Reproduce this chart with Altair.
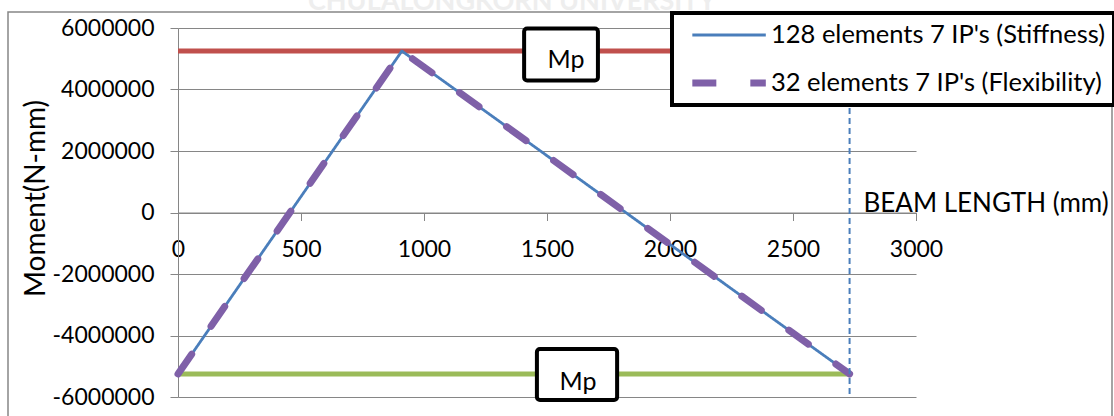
import altair as alt
import pandas as pd

# Bending moment along the beam, two analysis models
series_names = ["128 elements 7 IP's (Stiffness)", "32 elements 7 IP's (Flexibility)"]
stiff_x = [0, 910, 2730]
stiff_m = [-5250000, 5250000, -5250000]
flex_x = [0, 910, 2730]
flex_m = [-5250000, 5250000, -5250000]

# Plastic moment capacity (+Mp / -Mp) and beam end
mp_value = 5250000
mp_span = [0, 2730]
beam_end = 2730

# Axis ticks
x_ticks = [0, 500, 1000, 1500, 2000, 2500, 3000]
y_ticks = [-6000000, -4000000, -2000000, 0, 2000000, 4000000, 6000000]

# "Mp" callouts: box corners and label anchor in data units
mp_boxes = [
    {"x0": 1407, "x1": 1707, "y0": 5980000, "y1": 4290000, "tx": 1577, "ty": 4700000},
    {"x0": 1459, "x1": 1785, "y0": -4440000, "y1": -6100000, "tx": 1626, "ty": -5770000},
]

FONT = "Lato"
GRAY = "#868686"
BLUE = "#4a7ebb"
PURPLE = "#7f60a8"

lines_df = pd.DataFrame(
    [{"x": x, "m": m, "series": series_names[0]} for x, m in zip(stiff_x, stiff_m)]
    + [{"x": x, "m": m, "series": series_names[1]} for x, m in zip(flex_x, flex_m)]
)

mp_df = pd.DataFrame([
    {"x0": mp_span[0], "x1": mp_span[1], "m": mp_value, "c": "#c0504d"},
    {"x0": mp_span[0], "x1": mp_span[1], "m": -mp_value, "c": "#9bbb59"},
])

box_df = pd.DataFrame(mp_boxes)

x_scale = alt.Scale(domain=[0, 3000], nice=False, zero=False)
y_scale = alt.Scale(domain=[-6000000, 6000000], nice=False, zero=False)

x_axis = alt.Axis(
    values=x_ticks, labelExpr="datum.value + ''", grid=False, offset=-184.5,
    labelFlush=False, labelOverlap=False,
    domainColor=GRAY, tickColor=GRAY, tickSize=8, labelPadding=18,
    labelFont=FONT, labelFontSize=23, labelColor="black",
    title="BEAM LENGTH (mm)", titleFont=FONT, titleFontSize=26,
    titleFontWeight="normal", titleColor="black",
    titleAlign="left", titleAnchor="start", titleX=685, titleY=-1,
    titleBaseline="alphabetic",
)
y_axis = alt.Axis(
    values=y_ticks, labelExpr="datum.value + ''", labelFlush=False, labelOverlap=False,
    grid=True, gridColor=GRAY, gridWidth=1.2,
    domainColor=GRAY, tickColor=GRAY, tickSize=8, labelPadding=16,
    labelFont=FONT, labelFontSize=23, labelColor="black",
    title="Moment(N-mm)", titleFont=FONT, titleFontSize=28,
    titleFontWeight="normal", titleColor="black",
    titleAngle=270, titleAlign="center", titleBaseline="middle",
    titleX=-142, titleY=170,
)

# Outer chart frame
frame = alt.Chart(alt.Data(values=[{}])).mark_rect(
    filled=False, stroke=GRAY, strokeWidth=1.5
).encode(
    x=alt.value(-170), x2=alt.value(934), y=alt.value(-16), y2=alt.value(400)
)

watermark = alt.Chart(alt.Data(values=[{}])).mark_text(
    text="CHULALONGKORN UNIVERSITY", font=FONT, fontSize=27, fontWeight="bold",
    color="#eeeeee", align="center", baseline="alphabetic"
).encode(x=alt.value(334), y=alt.value(-18))

axes_base = alt.Chart(pd.DataFrame({"x": [0], "m": [0]})).mark_point(opacity=0).encode(
    x=alt.X("x:Q", scale=x_scale, axis=x_axis),
    y=alt.Y("m:Q", scale=y_scale, axis=y_axis),
)

mp_lines = alt.Chart(mp_df).mark_rule(strokeWidth=5).encode(
    x="x0:Q", x2="x1:Q", y="m:Q",
    stroke=alt.Stroke("c:N", scale=None, legend=None),
)

legend = alt.Legend(
    orient="none", legendX=494, legendY=-15,
    strokeColor="black", fillColor="white", padding=8,
    labelFont=FONT, labelFontSize=25.5, labelColor="black", labelLimit=600,
    symbolType="M-0.3,0H5.7", symbolSize=600, labelOffset=59, rowPadding=18,
)

moment_lines = alt.Chart(lines_df).mark_line(strokeCap="round", strokeJoin="round").encode(
    x="x:Q",
    y="m:Q",
    color=alt.Color(
        "series:N", title=None, legend=legend,
        scale=alt.Scale(domain=series_names, range=[BLUE, PURPLE]),
    ),
    strokeDash=alt.StrokeDash(
        "series:N", title=None, legend=legend,
        scale=alt.Scale(domain=series_names, range=[[1, 0], [24, 34]]),
    ),
    strokeWidth=alt.StrokeWidth(
        "series:N", title=None, legend=legend,
        scale=alt.Scale(domain=series_names, range=[2.8, 7]),
    ),
)

end_line = alt.Chart(alt.Data(values=[{"x": beam_end}])).mark_rule(
    color=BLUE, strokeWidth=2, strokeDash=[6, 4]
).encode(x="x:Q")

boxes = alt.Chart(box_df).mark_rect(
    fill="white", stroke="black", strokeWidth=4, cornerRadius=3
).encode(x="x0:Q", x2="x1:Q", y="y0:Q", y2="y1:Q")

box_text = alt.Chart(box_df).mark_text(
    text="Mp", font=FONT, fontSize=25, color="black", align="center", baseline="alphabetic"
).encode(x="tx:Q", y="ty:Q")

chart = alt.layer(
    frame, watermark, axes_base, mp_lines, moment_lines, end_line, boxes, box_text
).properties(
    width=738, height=369,
    autosize=alt.AutoSizeParams(type="none"),
    padding={"left": 178, "top": 28, "right": 198, "bottom": 19},
    background="white",
).configure_view(
    strokeWidth=0
).configure_legend(
    strokeWidth=4,
)

chart.save("out.html", embed_options={"renderer": "svg", "actions": False})
